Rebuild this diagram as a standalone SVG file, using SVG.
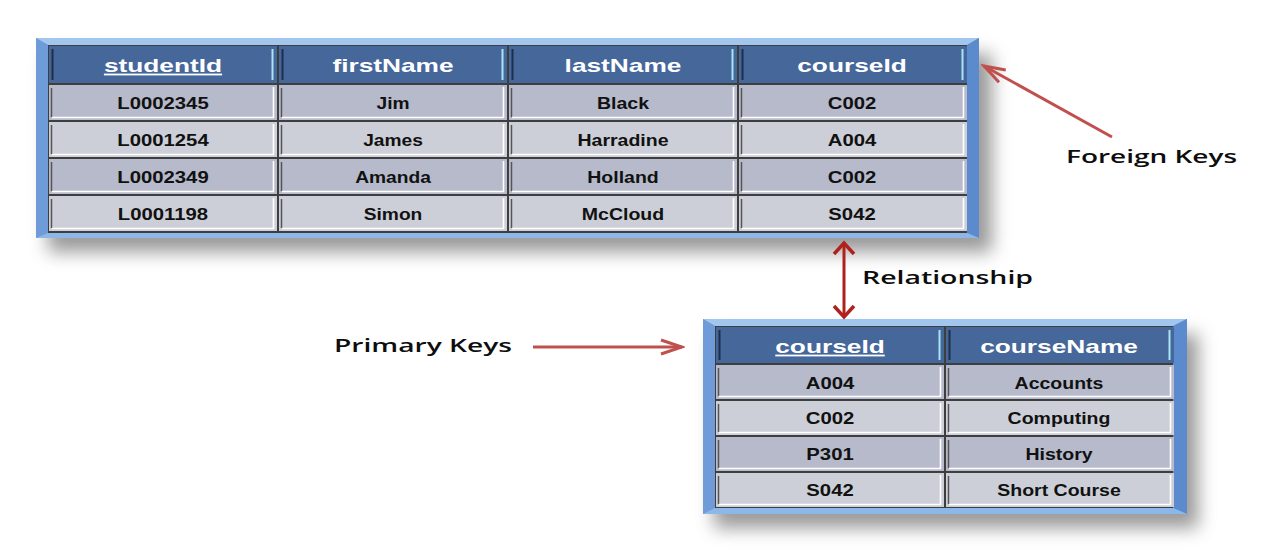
<svg xmlns="http://www.w3.org/2000/svg" xmlns:xlink="http://www.w3.org/1999/xlink" width="1272" height="554" viewBox="0 0 1272 554">
<style>
.cell{font-family:"Liberation Sans",Arial,sans-serif;font-weight:bold;font-size:16px;fill:#111;text-anchor:middle}
.hd{font-family:"Liberation Sans",Arial,sans-serif;font-weight:bold;font-size:18px;fill:#fff;text-anchor:middle}
.lbl{font-family:"Open Sans","Liberation Sans",sans-serif;font-weight:600;font-size:18px;fill:#0d0d0d}
.dk{fill:#b6bacb}
.lt{fill:#cccfd7}
.hf{fill:#46679a}
.grid{fill:#3e3e3e}
.ft{fill:#a3c6ee}.fl{fill:#6f9bd8}.fr{fill:#5b8bcd}.fb{fill:#8cb7e8}
.shadow{fill:#6e6e6e;opacity:0.7}
.conn{fill:none;stroke-width:3}
</style>
<defs>
<filter id="blur" x="-10%" y="-20%" width="120%" height="150%"><feGaussianBlur stdDeviation="9"/></filter>
<g id="c1">
<rect width="228" height="35"/>
<path d="M2.5 3V32" stroke="#555" stroke-width="1.5" fill="none"/>
<path d="M224.5 2V33M3 32.5H225" stroke="#fff" stroke-width="1.6" fill="none"/>
</g>
<g id="c2">
<rect width="228" height="34"/>
<path d="M2.5 3V31" stroke="#555" stroke-width="1.5" fill="none"/>
<path d="M224.5 2V32M3 31.5H225" stroke="#fff" stroke-width="1.6" fill="none"/>
</g>
<g id="h1">
<rect width="228" height="37"/>
<path d="M3.5 3V34" stroke="#1d2f4d" stroke-width="2" fill="none"/>
<path d="M223.5 3V34" stroke="#a8e4f4" stroke-width="2" fill="none"/>
</g>
<g id="h2">
<rect width="228" height="36"/>
<path d="M3.5 3V33" stroke="#1d2f4d" stroke-width="2" fill="none"/>
<path d="M223.5 3V33" stroke="#a8e4f4" stroke-width="2" fill="none"/>
</g>
<marker id="arr" viewBox="0 0 26 18" refX="23" refY="9" markerWidth="26" markerHeight="18" markerUnits="userSpaceOnUse" orient="auto">
<path d="M2 2L23 9L2 16" fill="none" stroke="#c0504d" stroke-width="3"/>
</marker>
<marker id="rel" viewBox="0 0 16 24" refX="13" refY="12" markerWidth="16" markerHeight="24" markerUnits="userSpaceOnUse" orient="auto-start-reverse">
<path d="M2 2L13 12L2 22" fill="none" stroke="#b0201c" stroke-width="3.5"/>
</marker>
</defs>

<g id="students">
<rect class="shadow" x="48" y="54" width="944" height="198" filter="url(#blur)"/>
<rect x="36" y="38" width="943" height="200" fill="#74a1dc"/>
<polygon class="ft" points="36,38 979,38 967,45 48,45"/>
<polygon class="fl" points="36,38 48,45 48,233 36,238"/>
<polygon class="fr" points="979,38 979,238 967,233 967,45"/>
<polygon class="fb" points="36,238 48,233 967,233 979,238"/>
<rect class="grid" x="48" y="45" width="919" height="188"/>
<use xlink:href="#h1" class="hf" x="49" y="46"/>
<use xlink:href="#h1" class="hf" x="279" y="46"/>
<use xlink:href="#h1" class="hf" x="509" y="46"/>
<use xlink:href="#h1" class="hf" x="739" y="46"/>
<use xlink:href="#c1" class="dk" x="49" y="85"/>
<use xlink:href="#c1" class="dk" x="279" y="85"/>
<use xlink:href="#c1" class="dk" x="509" y="85"/>
<use xlink:href="#c1" class="dk" x="739" y="85"/>
<use xlink:href="#c1" class="lt" x="49" y="122"/>
<use xlink:href="#c1" class="lt" x="279" y="122"/>
<use xlink:href="#c1" class="lt" x="509" y="122"/>
<use xlink:href="#c1" class="lt" x="739" y="122"/>
<use xlink:href="#c1" class="dk" x="49" y="159"/>
<use xlink:href="#c1" class="dk" x="279" y="159"/>
<use xlink:href="#c1" class="dk" x="509" y="159"/>
<use xlink:href="#c1" class="dk" x="739" y="159"/>
<use xlink:href="#c1" class="lt" x="49" y="196"/>
<use xlink:href="#c1" class="lt" x="279" y="196"/>
<use xlink:href="#c1" class="lt" x="509" y="196"/>
<use xlink:href="#c1" class="lt" x="739" y="196"/>
<text class="hd" transform="translate(163,72) scale(1.46,1)" text-decoration="underline">studentId</text>
<text class="hd" transform="translate(393,72) scale(1.46,1)">firstName</text>
<text class="hd" transform="translate(623,72) scale(1.46,1)">lastName</text>
<text class="hd" transform="translate(852,72) scale(1.46,1)">courseId</text>
<text class="cell" transform="translate(163,109) scale(1.27,1)">L0002345</text>
<text class="cell" transform="translate(393,109) scale(1.2,1)">Jim</text>
<text class="cell" transform="translate(623,109) scale(1.22,1)">Black</text>
<text class="cell" transform="translate(852,109) scale(1.27,1)">C002</text>
<text class="cell" transform="translate(163,146) scale(1.27,1)">L0001254</text>
<text class="cell" transform="translate(393,146) scale(1.2,1)">James</text>
<text class="cell" transform="translate(623,146) scale(1.22,1)">Harradine</text>
<text class="cell" transform="translate(852,146) scale(1.27,1)">A004</text>
<text class="cell" transform="translate(163,183) scale(1.27,1)">L0002349</text>
<text class="cell" transform="translate(393,183) scale(1.2,1)">Amanda</text>
<text class="cell" transform="translate(623,183) scale(1.22,1)">Holland</text>
<text class="cell" transform="translate(852,183) scale(1.27,1)">C002</text>
<text class="cell" transform="translate(163,220) scale(1.27,1)">L0001198</text>
<text class="cell" transform="translate(393,220) scale(1.2,1)">Simon</text>
<text class="cell" transform="translate(623,220) scale(1.22,1)">McCloud</text>
<text class="cell" transform="translate(852,220) scale(1.27,1)">S042</text>
</g>

<g id="courses">
<rect class="shadow" x="714" y="334" width="484" height="194" filter="url(#blur)"/>
<rect x="703" y="319" width="484" height="195" fill="#74a1dc"/>
<polygon class="ft" points="703,319 1187,319 1173,326 715,326"/>
<polygon class="fl" points="703,319 715,326 715,508 703,514"/>
<polygon class="fr" points="1187,319 1187,514 1173,508 1173,326"/>
<polygon class="fb" points="703,514 715,508 1173,508 1187,514"/>
<rect class="grid" x="715" y="326" width="458" height="182"/>
<use xlink:href="#h2" class="hf" x="716" y="327"/>
<use xlink:href="#h2" class="hf" x="946" y="327"/>
<use xlink:href="#c2" class="dk" x="716" y="365"/>
<use xlink:href="#c2" class="dk" x="946" y="365"/>
<use xlink:href="#c2" class="lt" x="716" y="401"/>
<use xlink:href="#c2" class="lt" x="946" y="401"/>
<use xlink:href="#c2" class="dk" x="716" y="437"/>
<use xlink:href="#c2" class="dk" x="946" y="437"/>
<use xlink:href="#c2" class="lt" x="716" y="473"/>
<use xlink:href="#c2" class="lt" x="946" y="473"/>
<text class="hd" transform="translate(830,353) scale(1.46,1)" text-decoration="underline">courseId</text>
<text class="hd" transform="translate(1059,353) scale(1.46,1)">courseName</text>
<text class="cell" transform="translate(830,389) scale(1.27,1)">A004</text>
<text class="cell" transform="translate(1059,389) scale(1.22,1)">Accounts</text>
<text class="cell" transform="translate(830,424) scale(1.27,1)">C002</text>
<text class="cell" transform="translate(1059,424) scale(1.22,1)">Computing</text>
<text class="cell" transform="translate(830,460) scale(1.27,1)">P301</text>
<text class="cell" transform="translate(1059,460) scale(1.22,1)">History</text>
<text class="cell" transform="translate(830,496) scale(1.27,1)">S042</text>
<text class="cell" transform="translate(1059,496) scale(1.22,1)">Short Course</text>
</g>

<g id="connectors">
<line class="conn" x1="1112" y1="137" x2="984" y2="66" stroke="#c0504d" marker-end="url(#arr)"/>
<line class="conn" x1="533" y1="347" x2="682" y2="347" stroke="#c0504d" marker-end="url(#arr)"/>
<line class="conn" x1="844" y1="243" x2="844" y2="317" stroke="#b0201c" stroke-width="3.5" marker-start="url(#rel)" marker-end="url(#rel)"/>
</g>

<g id="labels">
<text class="lbl" x="1066" y="163" textLength="171" lengthAdjust="spacingAndGlyphs">Foreign Keys</text>
<text class="lbl" x="862" y="284" textLength="171" lengthAdjust="spacingAndGlyphs">Relationship</text>
<text class="lbl" x="334" y="352" textLength="178" lengthAdjust="spacingAndGlyphs">Primary Keys</text>
</g>
</svg>
